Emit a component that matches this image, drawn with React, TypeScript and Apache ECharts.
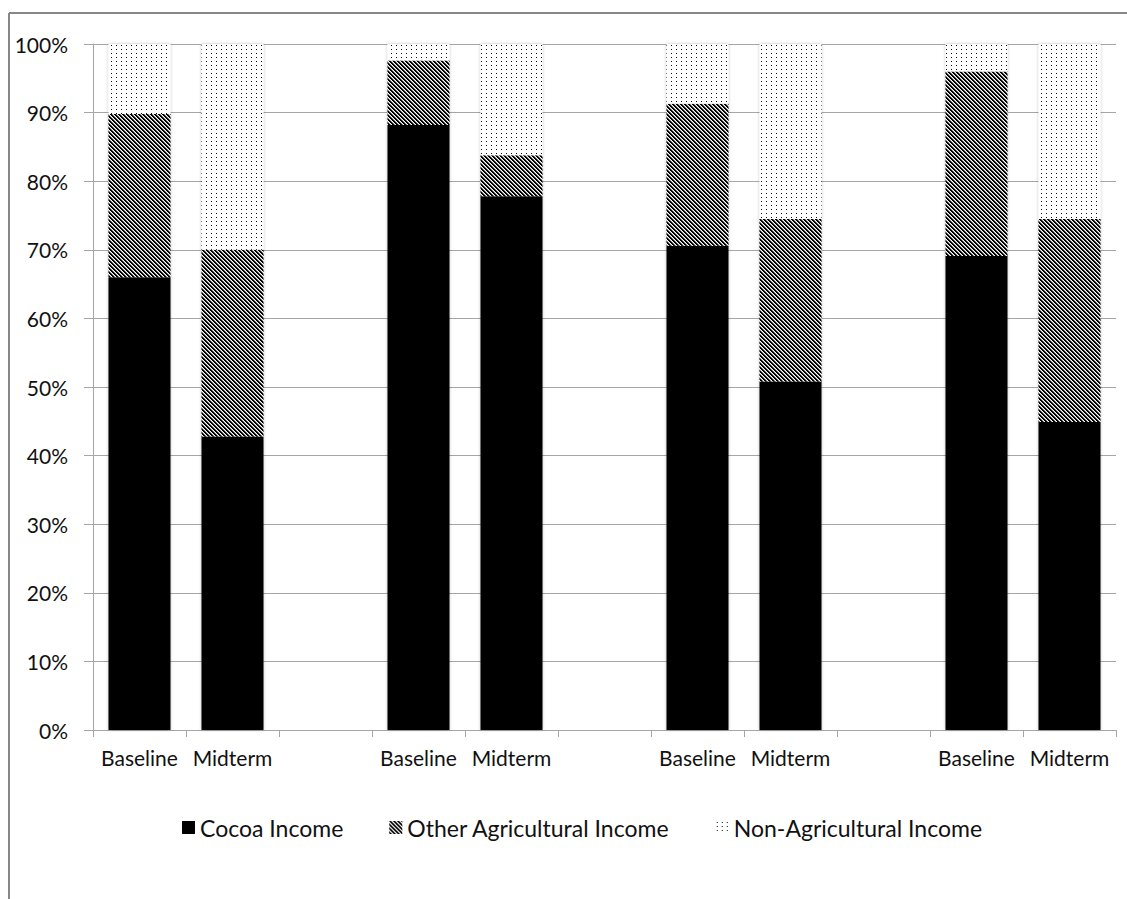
import React, { useEffect, useRef } from "react";
import * as echarts from "echarts";

const categories = [
  "Baseline", "Midterm", "",
  "Baseline", "Midterm", "",
  "Baseline", "Midterm", "",
  "Baseline", "Midterm",
];
const cocoaIncome = [66.0, 42.8, null, 88.2, 77.8, null, 70.6, 50.8, null, 69.1, 44.9];
const otherAgIncome = [23.8, 27.2, null, 9.4, 6.0, null, 20.7, 23.7, null, 26.9, 29.6];
const nonAgIncome = [10.2, 30.0, null, 2.4, 16.2, null, 8.7, 25.5, null, 4.0, 25.5];
const yTicks = [0, 10, 20, 30, 40, 50, 60, 70, 80, 90, 100];

const FONT = "Lato, 'Open Sans', sans-serif";

function makeHatch(): HTMLCanvasElement {
  const c = document.createElement("canvas");
  c.width = 8;
  c.height = 8;
  const ctx = c.getContext("2d")!;
  ctx.fillStyle = "#ffffff";
  ctx.fillRect(0, 0, 8, 8);
  for (let y = 0; y < 8; y++) {
    for (let x = 0; x < 8; x++) {
      const m = (((x - y) % 4) + 4) % 4;
      if (m === 0 || m === 1) {
        ctx.fillStyle = "#000000";
        ctx.fillRect(x, y, 1, 1);
      } else if (m === 2) {
        ctx.fillStyle = "#9a9a9a";
        ctx.fillRect(x, y, 1, 1);
      }
    }
  }
  return c;
}

function makeDots(): HTMLCanvasElement {
  const c = document.createElement("canvas");
  c.width = 5;
  c.height = 4;
  const ctx = c.getContext("2d")!;
  ctx.fillStyle = "#ffffff";
  ctx.fillRect(0, 0, 5, 4);
  ctx.fillStyle = "#111111";
  ctx.fillRect(1, 1, 1, 1);
  return c;
}

export default function App() {
  const ref = useRef<HTMLDivElement>(null);

  useEffect(() => {
    document.body.style.margin = "0";
    if (!ref.current) return;
    const chart = echarts.init(ref.current, null, { renderer: "svg" });
    const hatch = makeHatch();
    const dots = makeDots();
    const hatchPattern: any = { image: hatch, repeat: "repeat", imageWidth: 8, imageHeight: 8 };
    const dotPattern: any = { image: dots, repeat: "repeat", imageWidth: 5, imageHeight: 4 };

    const barCommon = {
      type: "bar" as const,
      stack: "total",
      barWidth: 62,
    };

    chart.setOption({
      animation: false,
      backgroundColor: "#ffffff",
      textStyle: { fontFamily: FONT },
      graphic: [
        {
          type: "line",
          shape: { x1: 9, y1: 13, x2: 1127, y2: 13 },
          style: { stroke: "#878787", lineWidth: 2 },
        },
        {
          type: "line",
          shape: { x1: 9, y1: 13, x2: 9, y2: 899 },
          style: { stroke: "#878787", lineWidth: 2 },
        },
      ],
      grid: { left: 93, right: 11, top: 44, bottom: 169, containLabel: false },
      legend: {
        top: 811,
        left: 177,
        itemWidth: 13,
        itemHeight: 13,
        itemGap: 46,
        textStyle: { fontFamily: FONT, fontSize: 23, color: "#111111" },
        data: [
          { name: "Cocoa Income", icon: "rect" },
          { name: "Other Agricultural Income", icon: "rect" },
          { name: "Non-Agricultural Income", icon: "rect" },
        ],
      },
      xAxis: {
        type: "category",
        data: categories,
        boundaryGap: true,
        axisLine: { show: true, lineStyle: { color: "#a6a6a6", width: 1 } },
        axisTick: { show: true, length: 7, lineStyle: { color: "#a6a6a6" }, interval: 0 },
        axisLabel: {
          interval: 0,
          margin: 17,
          fontFamily: FONT,
          fontSize: 21,
          color: "#111111",
        },
      },
      yAxis: {
        type: "value",
        min: 0,
        max: 100,
        interval: 10,
        axisLine: { show: true, lineStyle: { color: "#a6a6a6", width: 1 } },
        axisTick: { show: true, length: 9, lineStyle: { color: "#a6a6a6" } },
        splitLine: { show: true, lineStyle: { color: "#a6a6a6", width: 1 } },
        axisLabel: {
          margin: 25,
          fontFamily: FONT,
          fontSize: 21,
          color: "#111111",
          formatter: (v: number) => (yTicks.includes(v) ? v + "%" : ""),
        },
      },
      series: [
        {
          ...barCommon,
          name: "Cocoa Income",
          data: cocoaIncome,
          itemStyle: { color: "#000000", shadowBlur: 3, shadowColor: "rgba(0,0,0,0.25)" },
        },
        {
          ...barCommon,
          name: "Other Agricultural Income",
          data: otherAgIncome,
          itemStyle: { color: hatchPattern, shadowBlur: 3, shadowColor: "rgba(0,0,0,0.25)" },
        },
        {
          ...barCommon,
          name: "Non-Agricultural Income",
          data: nonAgIncome,
          itemStyle: { color: dotPattern, shadowBlur: 3, shadowColor: "rgba(0,0,0,0.25)" },
        },
      ],
    });

    return () => {
      chart.dispose();
    };
  }, []);

  return <div ref={ref} style={{ width: 1127, height: 899 }} />;
}
